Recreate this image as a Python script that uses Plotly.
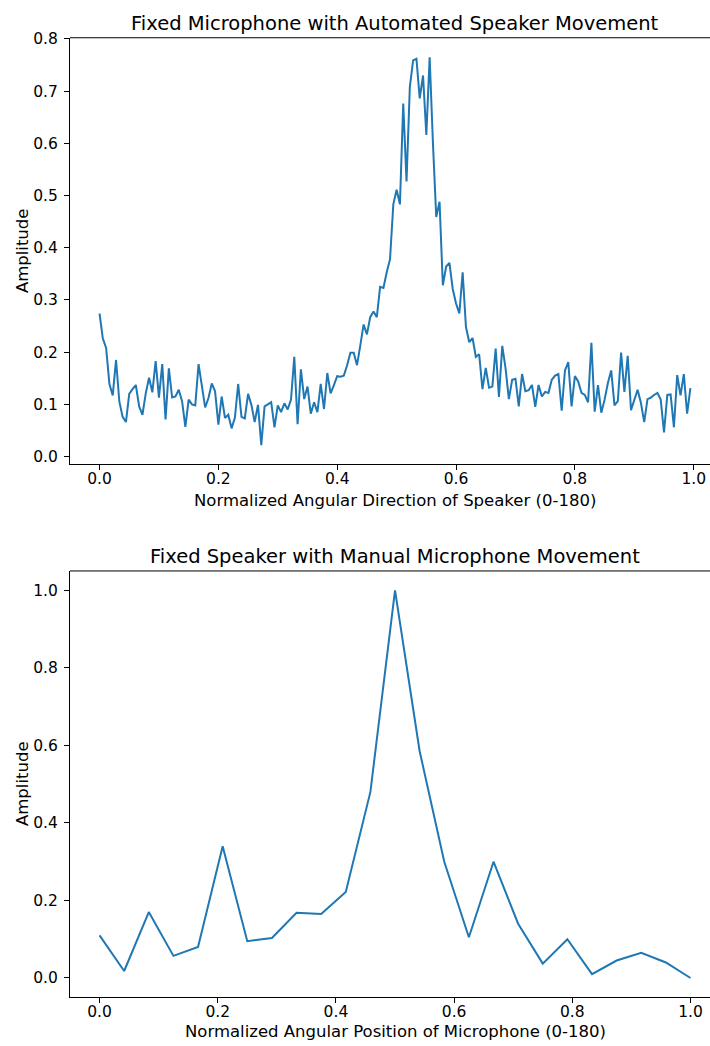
import plotly.graph_objects as go

# Top chart: 180 samples, x = i/180
top_values = [
    0.274, 0.226, 0.208, 0.139, 0.117, 0.185, 0.105, 0.076, 0.066, 0.120,
    0.129, 0.137, 0.096, 0.080, 0.121, 0.151, 0.123, 0.183, 0.113, 0.177,
    0.071, 0.169, 0.113, 0.115, 0.128, 0.106, 0.057, 0.109, 0.100, 0.098,
    0.177, 0.137, 0.094, 0.112, 0.140, 0.125, 0.061, 0.115, 0.074, 0.080,
    0.054, 0.074, 0.139, 0.076, 0.073, 0.120, 0.099, 0.066, 0.099, 0.022,
    0.096, 0.100, 0.104, 0.056, 0.098, 0.085, 0.102, 0.090, 0.109, 0.191,
    0.062, 0.167, 0.110, 0.134, 0.082, 0.104, 0.085, 0.139, 0.091, 0.160,
    0.121, 0.137, 0.154, 0.153, 0.155, 0.175, 0.199, 0.199, 0.175, 0.213,
    0.253, 0.234, 0.267, 0.278, 0.267, 0.325, 0.323, 0.353, 0.378, 0.483,
    0.511, 0.483, 0.676, 0.527, 0.708, 0.759, 0.762, 0.686, 0.730, 0.616,
    0.765, 0.600, 0.459, 0.488, 0.328, 0.364, 0.371, 0.321, 0.293, 0.274,
    0.353, 0.248, 0.219, 0.227, 0.191, 0.196, 0.129, 0.170, 0.132, 0.134,
    0.207, 0.114, 0.212, 0.169, 0.110, 0.147, 0.149, 0.096, 0.158, 0.125,
    0.127, 0.137, 0.095, 0.137, 0.115, 0.124, 0.122, 0.147, 0.155, 0.158,
    0.088, 0.165, 0.181, 0.096, 0.154, 0.144, 0.122, 0.118, 0.104, 0.218,
    0.086, 0.137, 0.084, 0.109, 0.141, 0.165, 0.098, 0.106, 0.199, 0.124,
    0.193, 0.089, 0.109, 0.128, 0.103, 0.066, 0.110, 0.113, 0.118, 0.122,
    0.109, 0.046, 0.118, 0.119, 0.056, 0.156, 0.117, 0.158, 0.082, 0.131,
]
top_x = [i / 180 for i in range(len(top_values))]

# Bottom chart: 25 samples, x = i/24
bottom_values = [
    0.110, 0.018, 0.170, 0.057, 0.080, 0.340, 0.095, 0.103, 0.168, 0.165,
    0.222, 0.480, 1.000, 0.585, 0.300, 0.105, 0.300, 0.140, 0.037, 0.100,
    0.010, 0.045, 0.065, 0.040, 0.000,
]
bottom_x = [i / 24 for i in range(len(bottom_values))]

top_title = "Fixed Microphone with Automated Speaker Movement"
bottom_title = "Fixed Speaker with Manual Microphone Movement"
top_xlabel = "Normalized Angular Direction of Speaker (0-180)"
bottom_xlabel = "Normalized Angular Position of Microphone (0-180)"
ylabel = "Amplitude"
x_ticks = [0.0, 0.2, 0.4, 0.6, 0.8, 1.0]
top_y_ticks = [0.0, 0.1, 0.2, 0.3, 0.4, 0.5, 0.6, 0.7, 0.8]
bottom_y_ticks = [0.0, 0.2, 0.4, 0.6, 0.8, 1.0]

W, H = 710, 1046
COLOR = "#1f77b4"
FONT = "DejaVu Sans"
TICK_SIZE = 15.5
LABEL_SIZE = 16.5
TITLE_SIZE = 19.5

fig = go.Figure()
fig.add_trace(go.Scatter(x=top_x, y=top_values, mode="lines",
                         line=dict(color=COLOR, width=2), xaxis="x", yaxis="y",
                         showlegend=False, hoverinfo="skip"))
fig.add_trace(go.Scatter(x=bottom_x, y=bottom_values, mode="lines",
                         line=dict(color=COLOR, width=2), xaxis="x2", yaxis="y2",
                         showlegend=False, hoverinfo="skip"))

left = 70 / W
top_dom = [1 - 461 / H, 1 - 31 / H]
bot_dom = [1 - 998 / H, 1 - 568.3 / H]

axis_common = dict(showline=True, linecolor="black", linewidth=1,
                   ticks="outside", ticklen=5, tickwidth=1, tickcolor="black",
                   showgrid=False, zeroline=False,
                   tickfont=dict(family=FONT, size=TICK_SIZE, color="black"))
xa = dict(axis_common, ticklabelstandoff=-5)
ya = dict(axis_common, ticklabelstandoff=3)

fig.update_layout(
    width=W, height=H,
    margin=dict(l=0, r=0, t=0, b=0),
    paper_bgcolor="white", plot_bgcolor="white",
    font=dict(family=FONT, color="black"),
    xaxis=dict(domain=[left, 1], range=[-0.0497, 1.0274], anchor="y",
               tickvals=x_ticks, tickformat=".1f", **xa),
    yaxis=dict(domain=top_dom, range=[-0.0152, 0.8022], anchor="x",
               tickvals=top_y_ticks, tickformat=".1f", **ya),
    xaxis2=dict(domain=[left, 1], range=[-0.05, 1.033], anchor="y2",
                tickvals=x_ticks, tickformat=".1f", **xa),
    yaxis2=dict(domain=bot_dom, range=[-0.05, 1.05], anchor="x2",
                tickvals=bottom_y_ticks, tickformat=".1f", **ya),
)

# top spines
for dom in (top_dom, bot_dom):
    fig.add_shape(type="line", xref="paper", yref="paper",
                  x0=left, x1=1, y0=dom[1], y1=dom[1],
                  line=dict(color="black", width=1))

cx = 395 / W
ann = []
ann.append(dict(text=top_title, x=cx, y=1 - 17 / H, font=dict(size=TITLE_SIZE)))
ann.append(dict(text=bottom_title, x=cx, y=1 - 554 / H, font=dict(size=TITLE_SIZE)))
ann.append(dict(text=top_xlabel, x=cx, y=1 - 497 / H, font=dict(size=LABEL_SIZE)))
ann.append(dict(text=bottom_xlabel, x=cx, y=1 - 1032 / H, font=dict(size=LABEL_SIZE)))
ann.append(dict(text=ylabel, x=22 / W, y=1 - 246 / H, font=dict(size=LABEL_SIZE), textangle=-90))
ann.append(dict(text=ylabel, x=22 / W, y=1 - 783 / H, font=dict(size=LABEL_SIZE), textangle=-90))
for a in ann:
    a.update(xref="paper", yref="paper", xanchor="center", yanchor="middle",
             showarrow=False)
    a["font"].update(family=FONT, color="black")
    fig.add_annotation(**a)

fig.write_html("out.html")
